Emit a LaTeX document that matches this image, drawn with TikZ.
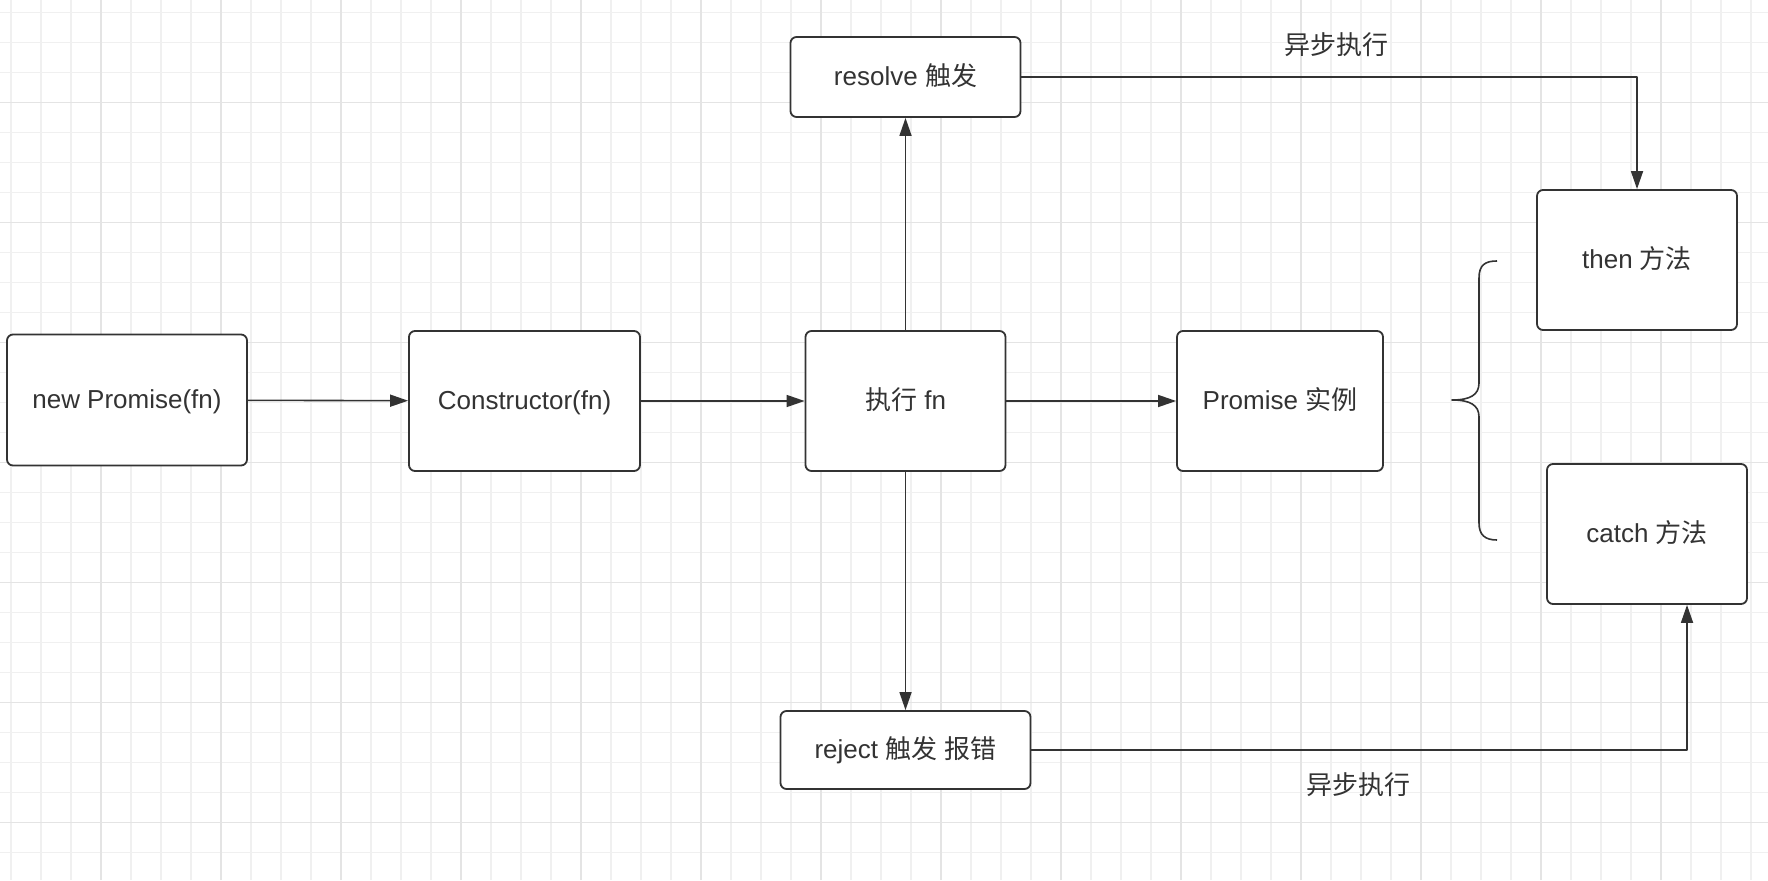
\documentclass[tikz,border=0pt]{standalone}
\usepackage{fontspec}
\setmainfont{Liberation Sans}
\newfontfamily\cjk{Noto Sans CJK SC}
\newcommand{\zh}[1]{{\cjk #1}}
\usetikzlibrary{arrows.meta}
\definecolor{ink}{HTML}{333333}
\definecolor{gridminor}{HTML}{F0F0F0}
\definecolor{gridmajor}{HTML}{E4E4E4}
\begin{document}
\begin{tikzpicture}[x=1pt,y=-1pt,>={Triangle[length=18pt,width=12pt]},line join=round,
		font=\fontsize{26}{30}\selectfont,
		box/.style={draw=ink,line width=1.8pt,rounded corners=6pt,fill=white,text=ink,inner sep=0pt,
			text height=22pt,text depth=5.4pt},
		link/.style={->,draw=ink,line width=1.6pt}]
		\fill[white] (0,0) rectangle (1768,880);
		\useasboundingbox (0,0) rectangle (1768,880);
		% grid
		\foreach \i in {0,...,58}
		\draw[gridminor,line width=1.2pt] ({11+30*\i},0)--({11+30*\i},880);
		\foreach \i in {0,...,28}
		\draw[gridminor,line width=1.2pt] (0,{12.5+30*\i})--(1768,{12.5+30*\i});
		\foreach \i in {0,...,13}
		\draw[gridmajor,line width=1.6pt] ({101+120*\i},0)--({101+120*\i},880);
		\foreach \i in {0,...,6}
		\draw[gridmajor,line width=1.6pt] (0,{102.5+120*\i})--(1768,{102.5+120*\i});
		% boxes
		\node[box,minimum width=240pt,minimum height=131pt] (new) at (127,400) {new Promise(fn)};
		\node[box,minimum width=231pt,minimum height=140pt] (ctor) at (524.5,401) {Constructor(fn)};
		\node[box,minimum width=200pt,minimum height=140pt] (exec) at (905.5,401) {\zh{执行} fn};
		\node[box,minimum width=206pt,minimum height=140pt] (inst) at (1280,401) {Promise \zh{实例}};
		\node[box,minimum width=230pt,minimum height=80pt] (resolve) at (905.5,77) {resolve \zh{触发}};
		\node[box,minimum width=250pt,minimum height=78pt] (reject) at (905.5,750) {reject \zh{触发} \zh{报错}};
		\node[box,minimum width=200pt,minimum height=140pt] (then) at (1637,260) {then \zh{方法}};
		\node[box,minimum width=200pt,minimum height=140pt] (catch) at (1647,534) {catch \zh{方法}};
		\node[text=ink] (asyncres) at (1336,45) {\zh{异步执行}};
		\node[text=ink] (asyncrej) at (1358,785) {\zh{异步执行}};
		% arrows
		\draw[link] (new) -- (ctor);
		\draw[link] (ctor) -- (exec);
		\draw[link] (exec) -- (inst);
		\draw[link] (exec) -- (resolve);
		\draw[link] (exec) -- (reject);
		\draw[link] (resolve) -| (then);
		\draw[link] (reject) -| ([xshift=40pt]catch.south);
		% brace
		\draw[ink,line width=1.6pt] (1497,261) .. controls (1485,261) and (1479,265) .. (1479,278)
		-- (1479,383) .. controls (1479,395) and (1470,400) .. (1452,400)
		.. controls (1470,400) and (1479,405) .. (1479,417)
		-- (1479,523) .. controls (1479,535) and (1485,540) .. (1497,540);
\end{tikzpicture}
\end{document}
